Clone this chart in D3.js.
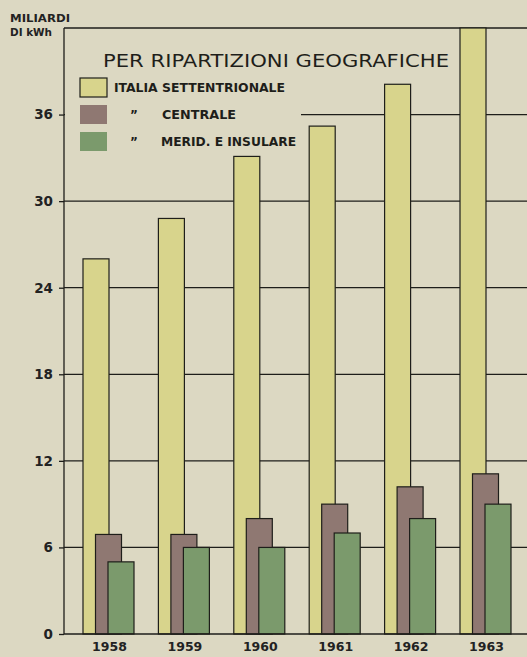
<!DOCTYPE html>
<html><head><meta charset="utf-8">
<script src="https://cdn.jsdelivr.net/npm/d3@7"></script>
<style>
html,body{margin:0;padding:0;background:#dcd8c2;}
svg{display:block;}
</style></head>
<body>
<svg id="c" width="527" height="657"></svg>
<script>
const years = ["1958","1959","1960","1961","1962","1963"];
const seriesNames = ["ITALIA SETTENTRIONALE","CENTRALE","MERID. E INSULARE"];
const settentrionale = [26.0, 28.8, 33.1, 35.2, 38.1, 42.0];
const centrale = [6.9, 6.9, 8.0, 9.0, 10.2, 11.1];
const meridionale = [5.0, 6.0, 6.0, 7.0, 8.0, 9.0];
const yTicks = [0, 6, 12, 18, 24, 30, 36];
const colors = ["#d8d48c", "#8f7872", "#7b9a6c"];

(function () {
const svg = d3.select("#c");
const W = 527, H = 657;
const mLeft = 64, mTop = 28, mBottom = 634;

svg.append("rect").attr("width", W).attr("height", H).attr("fill", "#dcd8c2");

const y = d3.scaleLinear().domain([0, 42]).range([mBottom, mTop]);
const x = d3.scaleBand().domain(years).range([83, 511]).paddingInner(0.3236).paddingOuter(0);
const barW = 26;
const xs = d3.scalePoint().domain(seriesNames).range([0, x.bandwidth() - barW]);

const ink = "#1e1e1a";

// gridlines
svg.append("g").selectAll("line").data(yTicks.filter(d => d > 0)).join("line")
  .attr("x1", mLeft).attr("x2", W).attr("y1", d => y(d)).attr("y2", d => y(d))
  .attr("stroke", ink).attr("stroke-width", 1.3);
// top frame
svg.append("line").attr("x1", mLeft).attr("x2", W).attr("y1", y(42)).attr("y2", y(42))
  .attr("stroke", ink).attr("stroke-width", 1.3);

// legend background (hides gridline under legend)
svg.append("rect").attr("x", mLeft + 1).attr("y", mTop + 2).attr("width", 236).attr("height", 128)
  .attr("fill", "#dcd8c2");

// axis
const axis = d3.axisLeft(y).tickValues(yTicks).tickSize(5).tickPadding(6).tickFormat(d3.format("d"));
const ag = svg.append("g").attr("transform", `translate(${mLeft},0)`).call(axis);
ag.select(".domain").attr("stroke", ink).attr("stroke-width", 1.3).attr("d", `M0,${mTop}V${mBottom}`);
ag.selectAll(".tick line").attr("stroke", ink).attr("stroke-width", 1.3);
ag.selectAll(".tick text").attr("fill", "#222").attr("font-family", "DejaVu Sans, sans-serif")
  .attr("font-weight", "bold").attr("font-size", 13.5).attr("x", -11);

// bars
const data = [settentrionale, centrale, meridionale];
years.forEach((yr, i) => {
  const g = svg.append("g");
  data.forEach((arr, s) => {
    g.append("rect")
      .attr("x", x(yr) + xs(seriesNames[s]))
      .attr("y", y(arr[i]))
      .attr("width", barW)
      .attr("height", y(0) - y(arr[i]))
      .attr("fill", colors[s])
      .attr("stroke", ink).attr("stroke-width", 1.2);
  });
});

// bottom axis line
svg.append("line").attr("x1", mLeft).attr("x2", W).attr("y1", mBottom).attr("y2", mBottom)
  .attr("stroke", ink).attr("stroke-width", 1.5);

// year labels
svg.append("g").selectAll("text").data(years).join("text")
  .attr("x", d => x(d) + x.bandwidth() / 2 + 1).attr("y", 651)
  .attr("text-anchor", "middle").attr("font-family", "DejaVu Sans, sans-serif")
  .attr("font-weight", "bold").attr("font-size", 12.5).attr("fill", "#222")
  .text(d => d);

// unit label
const ul = svg.append("g").attr("font-family", "DejaVu Sans, sans-serif").attr("font-weight", "bold")
  .attr("font-size", 10).attr("fill", "#222");
ul.append("text").attr("x", 10).attr("y", 22).attr("textLength", 60).attr("lengthAdjust", "spacingAndGlyphs").text("MILIARDI");
ul.append("text").attr("x", 10).attr("y", 36).attr("textLength", 42).attr("lengthAdjust", "spacingAndGlyphs").text("DI kWh");

// legend
svg.append("text").attr("x", 103).attr("y", 67).attr("font-family", "DejaVu Sans, sans-serif")
  .attr("font-size", 17.5).attr("fill", "#1e1e1a")
  .attr("textLength", 346).attr("lengthAdjust", "spacingAndGlyphs")
  .text("PER RIPARTIZIONI GEOGRAFICHE");

const legY = [78, 105, 132];
const legLabelX = [114, 162, 161];
const legLabelW = [171, 74, 135];
const lg = svg.append("g");
seriesNames.forEach((n, s) => {
  lg.append("rect").attr("x", 80).attr("y", legY[s]).attr("width", 27).attr("height", 19)
    .attr("fill", colors[s]).attr("stroke", s === 0 ? ink : "none").attr("stroke-width", 1.2);
  lg.append("text").attr("x", legLabelX[s]).attr("y", legY[s] + 14)
    .attr("font-family", "DejaVu Sans Condensed, DejaVu Sans, sans-serif").attr("font-weight", "bold")
    .attr("font-size", 12).attr("fill", "#1e1e1a")
    .attr("textLength", legLabelW[s]).attr("lengthAdjust", "spacingAndGlyphs")
    .text(n);
  if (s > 0) {
    lg.append("text").attr("x", 130).attr("y", legY[s] + 14)
      .attr("font-family", "DejaVu Sans, sans-serif").attr("font-weight", "bold")
      .attr("font-size", 12).attr("fill", "#1e1e1a").text("\u201D");
  }
});
})();
</script>
</body></html>
